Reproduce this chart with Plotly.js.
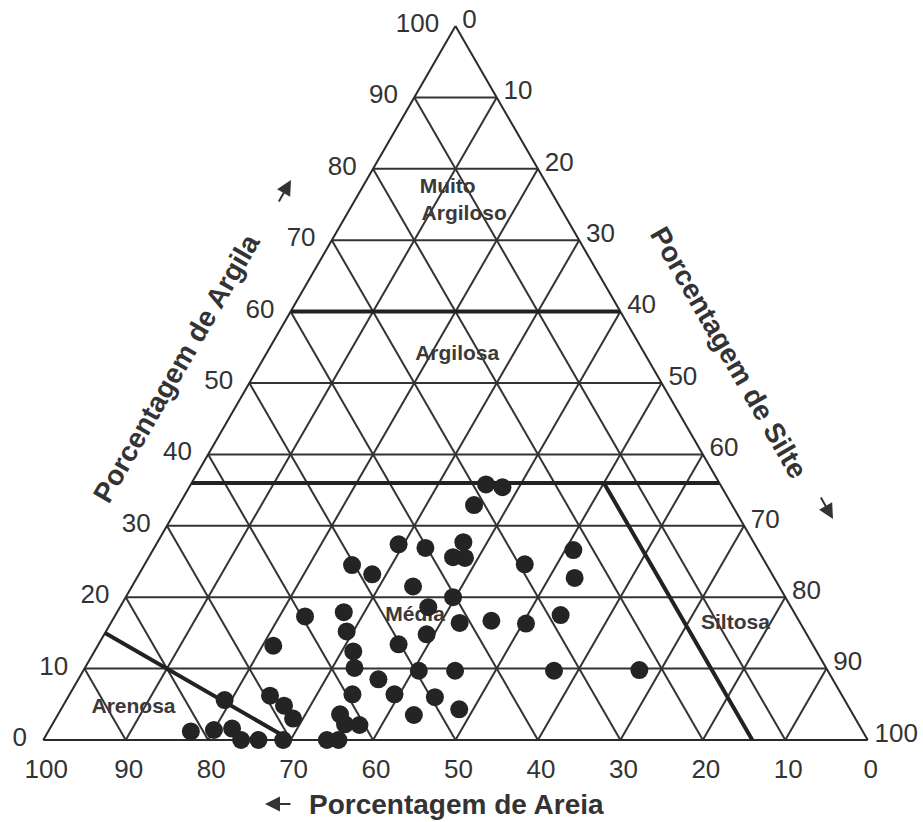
<!DOCTYPE html>
<html>
<head>
<meta charset="utf-8">
<script src="https://cdn.plot.ly/plotly-3.0.1.min.js"></script>
<style>
html,body{margin:0;padding:0;background:#fff;}
#chart{width:923px;height:822px;}
</style>
</head>
<body>
<div id="chart"></div>
<script>
// Sample points (percent)
var clay = [35.8,35.4,32.9,27.4,26.9,27.7,25.6,25.5,24.5,23.2,21.5,26.6,22.7,24.6,17.3,17.9,15.2,20.0,18.6,16.4,16.7,16.3,17.5,14.8,13.4,13.2,12.4,10.1,8.5,9.7,9.7,9.7,9.8,5.6,6.2,4.8,3.0,6.4,6.4,6.0,3.5,4.3,3.6,2.2,2.1,1.2,1.4,1.6,0,0,0,0,0];
var sand = [28.4,26.6,31.3,43.2,40.2,35.2,37.5,36.1,50.3,48.5,44.4,22.4,24.2,29.3,59.6,54.6,55.6,40.3,44.0,41.3,37.3,33.3,28.5,46.1,50.2,65.5,56.2,57.2,55.1,49.6,45.2,33.2,22.8,75.2,69.4,68.4,68.2,59.3,54.2,49.5,53.3,47.4,62.2,62.3,60.6,81.5,78.6,76.3,76.0,73.9,70.9,65.6,64.2];
var silt = [35.8,38.0,35.8,29.4,32.9,37.1,36.9,38.4,25.2,28.3,34.1,51.0,53.1,46.1,23.1,27.5,29.2,39.7,37.4,42.3,46.0,50.4,54.0,39.1,36.4,21.3,31.4,32.7,36.4,40.7,45.1,57.1,67.4,19.2,24.4,26.8,28.8,34.3,39.4,44.5,43.2,48.3,34.2,35.5,37.3,17.3,20.0,22.1,24.0,26.1,29.1,34.4,35.8];

// Class boundaries (clay, sand, silt)
var muitoArgClay = [60, 60], muitoArgSand = [40, 0], muitoArgSilt = [0, 40];
var argClay = [36, 36], argSand = [64, 0], argSilt = [0, 64];
var siltClay = [36, 0], siltSand = [14, 14], siltSilt = [50, 86];
var areClay = [15, 0], areSand = [85, 70], areSilt = [0, 30];

// Class labels (clay, sand, silt)
var classNames = ['Muito', 'Argiloso', 'Argilosa', 'Média', 'Siltosa', 'Arenosa'];
var classClay = [77.3, 73.5, 54.0, 17.4, 16.3, 4.5];
var classSand = [12.3, 12.2, 22.8, 46.2, 7.9, 86.8];
var classSilt = [10.4, 14.3, 23.2, 36.4, 75.8, 8.7];

var tickVals = [0,10,20,30,40,50,60,70,80,90,100];

var FONT = 'Liberation Sans, Arial, Helvetica, sans-serif';
var INK = '#242424';

function boundary(a, b, c) {
  return {type:'scatterternary', mode:'lines', a:a, b:b, c:c,
    line:{color:'#222', width:4}, hoverinfo:'skip', showlegend:false, cliponaxis:false};
}

var traces = [
  boundary(muitoArgClay, muitoArgSand, muitoArgSilt),
  boundary(argClay, argSand, argSilt),
  boundary(siltClay, siltSand, siltSilt),
  boundary(areClay, areSand, areSilt),
  {type:'scatterternary', mode:'text', a:classClay, b:classSand, c:classSilt,
   text:classNames, textposition:'middle center',
   textfont:{family:FONT, size:21, color:'#3a3a3a', weight:'bold'},
   hoverinfo:'skip', showlegend:false, cliponaxis:false},
  {type:'scatterternary', mode:'markers', a:clay, b:sand, c:silt,
   marker:{size:18, color:INK, line:{width:0}},
   showlegend:false, cliponaxis:false}
];

function axis(len) {
  return {
    title:{text:''},
    min:0, tickmode:'array', tickvals:tickVals,
    ticks:'outside', ticklen:len, tickcolor:'rgba(0,0,0,0)',
    tickfont:{family:FONT, size:26, color:'#333'},
    showgrid:true, gridcolor:'#333', gridwidth:2,
    showline:true, linecolor:'#2a2a2a', linewidth:2,
    layer:'below traces'
  };
}

var layout = {
  width:923, height:822,
  margin:{l:43, r:55, t:26, b:82, pad:0},
  paper_bgcolor:'#ffffff',
  showlegend:false,
  ternary:{
    sum:100,
    bgcolor:'#ffffff',
    domain:{x:[0,1], y:[0,1]},
    aaxis:axis(12),
    baxis:axis(6),
    caxis:axis(5)
  },
  annotations:[
    {xref:'paper', yref:'paper', x:(176-43)/825, y:(740-368)/714, text:'<b>Porcentagem de Argila</b>',
     showarrow:false, textangle:-60, font:{family:FONT, size:28, color:'#333'}, xanchor:'center', yanchor:'middle'},
    {xref:'paper', yref:'paper', x:(729-43)/825, y:(740-352)/714, text:'<b>Porcentagem de Silte</b>',
     showarrow:false, textangle:60, font:{family:FONT, size:28, color:'#333'}, xanchor:'center', yanchor:'middle'},
    {xref:'paper', yref:'paper', x:(456-43)/825, y:(740-805)/714, text:'<b>Porcentagem de Areia</b>',
     showarrow:false, font:{family:FONT, size:28, color:'#333'}, xanchor:'center', yanchor:'middle'},
    {xref:'paper', yref:'paper', x:(291-43)/825, y:(740-180)/714, text:'', showarrow:true,
     ax:-13, ay:23, arrowhead:2, arrowsize:1.5, arrowwidth:2, arrowcolor:'#333', standoff:0, startstandoff:0},
    {xref:'paper', yref:'paper', x:(833-43)/825, y:(740-519)/714, text:'', showarrow:true,
     ax:-13, ay:-23, arrowhead:2, arrowsize:1.5, arrowwidth:2, arrowcolor:'#333', standoff:0, startstandoff:0},
    {xref:'paper', yref:'paper', x:(265-43)/825, y:(740-804)/714, text:'', showarrow:true,
     ax:27, ay:0, arrowhead:2, arrowsize:1.5, arrowwidth:2, arrowcolor:'#333', standoff:0, startstandoff:0}
  ]
};

Plotly.newPlot('chart', traces, layout, {displayModeBar:false, staticPlot:true});
</script>
</body>
</html>
